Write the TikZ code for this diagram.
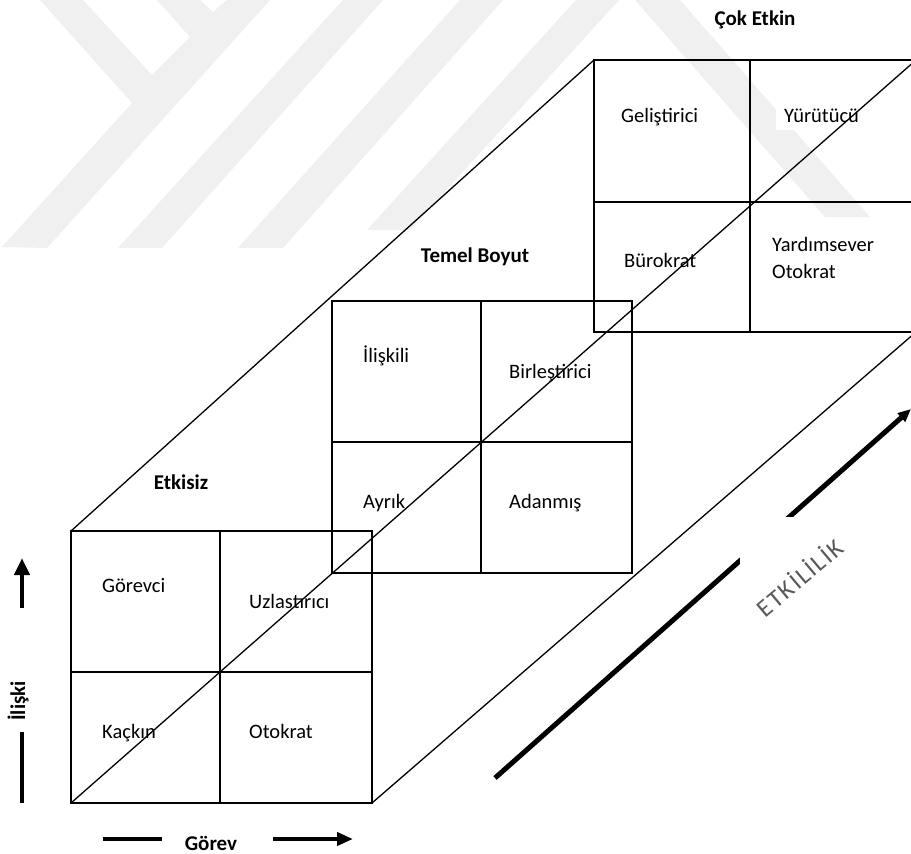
\documentclass[tikz,border=0pt]{standalone}
\usepackage{fontspec}
\setmainfont{Carlito}
\usetikzlibrary{arrows.meta}
\begin{document}
\begin{tikzpicture}[x=1pt,y=-1pt,
  lbl/.style={font=\fontsize{20.5}{24}\selectfont, anchor=base west, inner sep=8pt, xshift=-8pt, fill=white},
  ttl/.style={font=\fontsize{21}{25}\selectfont\bfseries, anchor=base, inner sep=6pt, fill=white},
  sq/.style={draw=black, line width=1.8pt},
  cubeedge/.style={draw=black, line width=1.3pt},
  wm/.style={fill=black!6, draw=none},
  axisline/.style={line width=4.5pt},
]
\useasboundingbox (0,0) rectangle (911,854);
\fill[white] (0,0) rectangle (911,854);

% faint watermark
\fill[wm] (2,247) -- (132,103) -- (40,0) -- (83,0) -- (152,75) -- (190,37) -- (157,0) -- (200,0) -- (213,12) -- (227,0) -- (270,0) -- (47,248) -- cycle;
\fill[wm] (118,248) -- (162,248) -- (383,0) -- (343,0) -- cycle;
\fill[wm] (238,248) -- (283,248) -- (503,0) -- (460,0) -- cycle;
\fill[wm] (367,230) -- (410,230) -- (619,0) -- (576,0) -- cycle;
\fill[wm] (635,0) -- (680,0) -- (870,217) -- (825,217) -- cycle;

% corner coordinates
\coordinate (F-nw) at (71,531);  \coordinate (F-se) at (372,803); \coordinate (F-sw) at (71,803);
\coordinate (F-n) at (220,531);  \coordinate (F-s) at (220,803);
\coordinate (F-w) at (71,672);   \coordinate (F-e) at (372,672);
\coordinate (M-nw) at (332,301); \coordinate (M-se) at (632,573);
\coordinate (M-n) at (481,301);  \coordinate (M-s) at (481,573);
\coordinate (M-w) at (332,442);  \coordinate (M-e) at (632,442);
\coordinate (B-nw) at (594,60);  \coordinate (B-se) at (916,332); \coordinate (B-ne) at (916,60);
\coordinate (B-n) at (750,60);   \coordinate (B-s) at (750,332);
\coordinate (B-w) at (594,202);  \coordinate (B-e) at (916,202);

% titles
\node[ttl] (cok) at (755,25) {Çok Etkin};
\node[ttl] (temel) at (475,262) {Temel Boyut};
\node[ttl] (etkisiz) at (181,489) {Etkisiz};
\node[ttl] (gorev) at (211,850) {Görev};
\node[ttl, rotate=90] (iliski) at (25,701) {İlişki};

% cell labels
\node[lbl] (gorevci) at (102,592) {Görevci};
\node[lbl] (uzlas) at (249,608) {Uzlastırıcı};
\node[lbl] (kackin) at (102,738) {Kaçkın};
\node[lbl] (otokrat) at (249,738) {Otokrat};
\node[lbl] (iliskili) at (363,362) {İlişkili};
\node[lbl] (birles) at (509,378) {Birleştirici};
\node[lbl] (ayrik) at (363,508) {Ayrık};
\node[lbl] (adanmis) at (509,508) {Adanmış};
\node[lbl] (gelis) at (621,122) {Geliştirici};
\node[lbl] (yurutucu) at (784,122) {Yürütücü};
\node[lbl] (burokrat) at (624,267) {Bürokrat};
\node[lbl] (yardim) at (772,251) {Yardımsever};
\node[lbl, fill=none] (yotokrat) at (772,278) {Otokrat};

% squares
\draw[sq] (F-nw) rectangle (F-se); \draw[sq] (F-n) -- (F-s); \draw[sq] (F-w) -- (F-e);
\draw[sq] (M-nw) rectangle (M-se); \draw[sq] (M-n) -- (M-s); \draw[sq] (M-w) -- (M-e);
\draw[sq] (B-nw) rectangle (B-se); \draw[sq] (B-n) -- (B-s); \draw[sq] (B-w) -- (B-e);

% cube edges and diagonal
\draw[cubeedge] (F-nw) -- (B-nw);
\draw[cubeedge] (F-se) -- (B-se);
\draw[cubeedge] (F-sw) -- (B-ne);

% axis arrows
\coordinate (iu0) at (22,608); \coordinate (iu1) at (22,558);
\coordinate (id0) at (22,732); \coordinate (id1) at (22,803);
\draw[axisline, -{Triangle[length=17pt,width=15pt]}] (iu0) -- (iu1);
\draw[axisline] (id0) -- (id1);
\coordinate (gl0) at (103,839); \coordinate (gl1) at (162,839);
\coordinate (gr0) at (273,839); \coordinate (gr1) at (353,839);
\draw[line width=4pt] (gl0) -- (gl1);
\draw[line width=4pt, -{Triangle[length=16pt,width=13pt]}] (gr0) -- (gr1);
\coordinate (ea0) at (495,778); \coordinate (ea1) at (911,409);
\draw[line width=5pt, -{Triangle[length=13pt,width=11pt]}] (ea0) -- (ea1);
\fill[white] (740,517) rectangle (875,640);
\node[rotate=40, text=black!65, font=\fontsize{25}{27}\selectfont\addfontfeature{LetterSpace=7}, inner sep=0pt] (etk) at (799,577) {ETKİLİLİK};
\end{tikzpicture}
\end{document}
